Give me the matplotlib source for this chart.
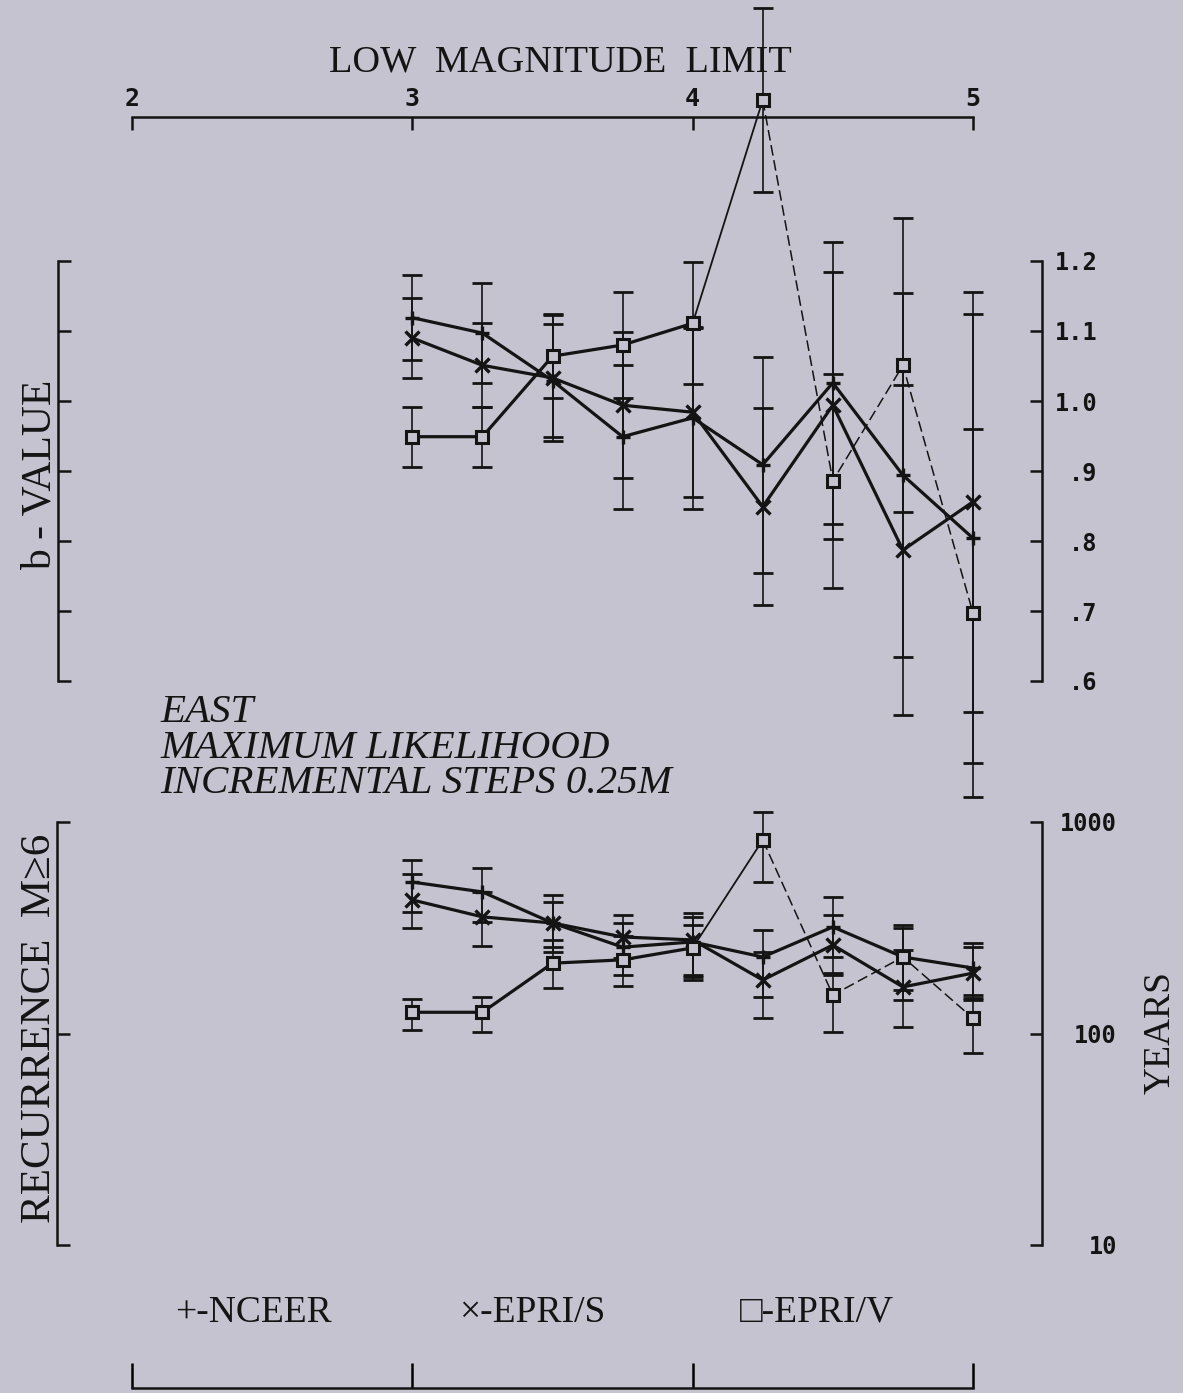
import numpy as np
import matplotlib
matplotlib.use("Agg")
import matplotlib.pyplot as plt
from matplotlib.ticker import FixedLocator, FixedFormatter, NullLocator

# ---------------- data ----------------
magnitude = [3.0, 3.25, 3.5, 3.75, 4.0, 4.25, 4.5, 4.75, 5.0]

# b-value (maximum likelihood) and one-sigma error
b_nceer = [1.119, 1.097, 1.029, 0.949, 0.976, 0.909, 1.026, 0.894, 0.804]
b_nceer_err = [0.061, 0.071, 0.081, 0.103, 0.130, 0.154, 0.201, 0.260, 0.321]
b_epri_s = [1.090, 1.051, 1.033, 0.994, 0.984, 0.849, 0.994, 0.787, 0.856]
b_epri_s_err = [0.057, 0.060, 0.090, 0.104, 0.121, 0.141, 0.191, 0.236, 0.300]
b_epri_v = [0.949, 0.949, 1.064, 1.080, 1.111, 1.430, 0.886, 1.051, 0.697]
b_epri_v_err = [0.043, 0.043, 0.060, 0.076, 0.087, 0.131, 0.153, 0.210, 0.263]

# recurrence interval of M>=6 (years) with lower / upper bounds
t_nceer = [520, 467, 333, 256, 271, 230, 319, 230, 204]
t_nceer_lo = [375, 337, 244, 189, 185, 149, 230, 144, 152]
t_nceer_hi = [661, 606, 452, 333, 356, 308, 442, 315, 268]
t_epri_s = [428, 356, 333, 286, 277, 179, 262, 166, 193]
t_epri_s_lo = [315, 259, 256, 227, 189, 118, 189, 107, 144]
t_epri_s_hi = [568, 467, 418, 363, 371, 243, 363, 248, 256]
t_epri_v = [126, 126, 215, 223, 254, 822, 152, 230, 118]
t_epri_v_lo = [104, 102, 164, 168, 179, 520, 102, 161, 81]
t_epri_v_hi = [146, 149, 277, 289, 326, 1114, 193, 326, 147]

x_ticks = [2, 3, 4, 5]
b_ticks = [0.6, 0.7, 0.8, 0.9, 1.0, 1.1, 1.2]
b_tick_labels = [".6", ".7", ".8", ".9", "1.0", "1.1", "1.2"]
t_ticks = [10, 100, 1000]
t_tick_labels = ["10", "100", "1000"]

legend_labels = ["+-NCEER", "\u00d7-EPRI/S", "\u25a1-EPRI/V"]
notes = ["EAST", "MAXIMUM LIKELIHOOD", "INCREMENTAL STEPS 0.25M"]

# ---------------- style ----------------
BG = "#c4c3cf"
INK = "#141414"
SERIF = ["Liberation Serif", "DejaVu Serif", "DejaVu Sans"]
MONO = "DejaVu Sans Mono"
W, H = 1183, 1393

fig = plt.figure(figsize=(W / 100, H / 100), dpi=100, facecolor=BG)


def px_axes(x0, y_top, x1, y_bot):
    return fig.add_axes([x0 / W, 1 - y_bot / H, (x1 - x0) / W, (y_bot - y_top) / H])


# b-value panel
ax_b = px_axes(132, 261, 973, 681)
# recurrence panel
ax_r = px_axes(132, 822, 973, 1245)

for ax in (ax_b, ax_r):
    ax.set_facecolor("none")
    ax.set_xlim(2, 5)
    for sp in ax.spines.values():
        sp.set_linewidth(1.8)
        sp.set_color(INK)

# --- axes decoration: b panel carries the top magnitude scale ---
ax_b.set_ylim(0.6, 1.2)
ax_b.spines["bottom"].set_visible(False)
ax_b.spines["top"].set_position(("axes", (681 - 117) / 420))
ax_b.spines["left"].set_position(("axes", -74 / 841))
ax_b.spines["right"].set_position(("axes", 910 / 841))
ax_b.xaxis.set_ticks_position("top")
ax_b.xaxis.set_major_locator(FixedLocator(x_ticks))
ax_b.xaxis.set_major_formatter(FixedFormatter([str(v) for v in x_ticks]))
ax_b.tick_params(axis="x", direction="in", length=9, width=1.8, pad=4,
                 labelsize=18, colors=INK)
ax_b.yaxis.set_ticks_position("both")
ax_b.yaxis.set_major_locator(FixedLocator(b_ticks))
ax_b.yaxis.set_major_formatter(FixedFormatter(b_tick_labels))
ax_b.yaxis.set_minor_locator(NullLocator())
ax_b.tick_params(axis="y", direction="in", length=9, width=1.8, labelleft=False,
                 labelright=True, pad=40, labelsize=17, colors=INK)

# --- recurrence panel carries the bottom scale ---
ax_r.set_yscale("log")
ax_r.set_ylim(10, 1000)
ax_r.spines["top"].set_visible(False)
ax_r.spines["bottom"].set_position(("axes", -(1388 - 1245) / 423))
ax_r.spines["left"].set_position(("axes", -75 / 841))
ax_r.spines["right"].set_position(("axes", 910 / 841))
ax_r.xaxis.set_ticks_position("bottom")
ax_r.xaxis.set_major_locator(FixedLocator(x_ticks))
ax_r.tick_params(axis="x", direction="in", length=18, width=1.8, labelbottom=False)
ax_r.yaxis.set_ticks_position("both")
ax_r.yaxis.set_major_locator(FixedLocator(t_ticks))
ax_r.yaxis.set_major_formatter(FixedFormatter(t_tick_labels))
ax_r.yaxis.set_minor_locator(NullLocator())
ax_r.tick_params(axis="y", direction="in", length=9, width=1.8, labelleft=False,
                 labelright=True, pad=54, labelsize=17, colors=INK)

for ax in (ax_b, ax_r):
    for lab in ax.get_xticklabels() + ax.get_yticklabels():
        lab.set_fontfamily(MONO)
        lab.set_fontweight("bold")
    for tick in ax.yaxis.get_major_ticks():
        tick.label2.set_horizontalalignment("right")


def draw_errors(ax, x, y, yerr):
    cont = ax.errorbar(x, y, yerr=yerr, fmt="none", ecolor=INK, elinewidth=1.2,
                       capsize=7, capthick=2.0)
    for art in list(cont[1]) + list(cont[2]):
        art.set_clip_on(False)


def draw_series(ax, x, y, marker, split=False):
    if not split:
        ax.plot(x, y, color=INK, lw=2.3, clip_on=False, zorder=3)
    else:
        ax.plot(x[:5], y[:5], color=INK, lw=2.3, clip_on=False, zorder=3)
        ax.plot(x[4:6], y[4:6], color=INK, lw=1.3, clip_on=False, zorder=3)
        ax.plot(x[5:], y[5:], color=INK, lw=1.1, ls=(0, (7, 3)), clip_on=False, zorder=3)
    if marker == "s":
        ax.plot(x, y, ls="none", marker="s", ms=8, mfc=BG, mec=INK, mew=2.2,
                clip_on=False, zorder=4)
    else:
        ax.plot(x, y, ls="none", marker=marker, ms=9.5, mec=INK, mew=2.4,
                clip_on=False, zorder=4)


def asym(vals, lo, hi):
    v = np.asarray(vals, float)
    return [v - np.asarray(lo, float), np.asarray(hi, float) - v]


# b-value series
draw_errors(ax_b, magnitude, b_nceer, b_nceer_err)
draw_errors(ax_b, magnitude, b_epri_s, b_epri_s_err)
draw_errors(ax_b, magnitude, b_epri_v, b_epri_v_err)
draw_series(ax_b, magnitude, b_nceer, "+")
draw_series(ax_b, magnitude, b_epri_s, "x")
draw_series(ax_b, magnitude, b_epri_v, "s", split=True)

# recurrence series
draw_errors(ax_r, magnitude, t_nceer, asym(t_nceer, t_nceer_lo, t_nceer_hi))
draw_errors(ax_r, magnitude, t_epri_s, asym(t_epri_s, t_epri_s_lo, t_epri_s_hi))
draw_errors(ax_r, magnitude, t_epri_v, asym(t_epri_v, t_epri_v_lo, t_epri_v_hi))
draw_series(ax_r, magnitude, t_nceer, "+")
draw_series(ax_r, magnitude, t_epri_s, "x")
draw_series(ax_r, magnitude, t_epri_v, "s", split=True)

# ---------------- text ----------------
def ftext(x, y, s, **kw):
    kw.setdefault("family", SERIF)
    kw.setdefault("color", INK)
    fig.text(x / W, 1 - y / H, s, **kw)


ftext(560, 72, "LOW  MAGNITUDE  LIMIT", ha="center", va="baseline", size=27.5)
ftext(40, 475, "b - VALUE", ha="center", va="center", rotation=90, size=30)
ftext(40, 1028, "RECURRENCE  M\u22656", ha="center", va="center", rotation=90, size=31)
ftext(1160, 1032, "YEARS", ha="center", va="center", rotation=90, size=27)

for i, line in enumerate(notes):
    ftext(160, 722 + 35.5 * i, line, ha="left", va="baseline", size=29.5, style="italic")

for xpos, lab in zip([175, 459, 740], legend_labels):
    ftext(xpos, 1322, lab, ha="left", va="baseline", size=27)

fig.savefig("out.png", dpi=100, facecolor=BG)
